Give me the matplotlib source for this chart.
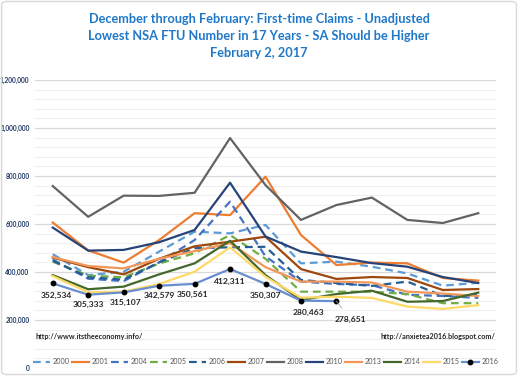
import matplotlib
matplotlib.use("Agg")
import matplotlib.pyplot as plt
from matplotlib.ticker import FuncFormatter, MultipleLocator
from matplotlib.patches import FancyBboxPatch

plt.rcParams["font.family"] = ["Lato", "DejaVu Sans"]

weeks = list(range(1, 14))

y2000 = [474000, 387000, 401000, 485000, 568000, 561000, 596000, 436000, 443000, 422000, 394000, 343000, 355000]
y2001 = [606000, 490000, 439000, 533000, 645000, 637000, 797000, 554000, 429000, 439000, 436000, 375000, 364000]
y2004 = [452000, 372000, 362000, 440000, 533000, 693000, 465000, 360000, 350000, 345000, 305000, 300000, 292000]
y2005 = [443000, 385000, 378000, 435000, 478000, 554000, 455000, 318000, 318000, 318000, 308000, 270000, 270000]
y2006 = [447000, 378000, 368000, 440000, 499000, 503000, 505000, 367000, 354000, 342000, 360000, 300000, 305000]
y2007 = [460000, 420000, 390000, 455000, 507000, 526000, 547000, 412000, 371000, 379000, 375000, 325000, 329000]
y2008 = [758000, 630000, 718000, 717000, 730000, 958000, 762000, 617000, 679000, 710000, 617000, 604000, 645000]
y2010 = [585000, 489000, 492000, 524000, 575000, 772000, 548000, 485000, 462000, 437000, 422000, 379000, 354000]
y2013 = [462000, 425000, 415000, 455000, 487000, 520000, 420000, 360000, 360000, 356000, 318000, 310000, 300000]
y2014 = [387000, 328000, 339000, 390000, 436000, 530000, 387000, 283000, 308000, 322000, 276000, 279000, 314000]
y2015 = [383000, 315000, 318000, 350000, 401000, 503000, 380000, 293000, 297000, 292000, 256000, 246000, 262000]
y2016 = [352534, 305333, 315107, 342579, 350561, 412311, 350307, 280463, 278651]

series_names = ["2000", "2001", "2004", "2005", "2006", "2007", "2008", "2010", "2013", "2014", "2015", "2016"]
series_vals = [y2000, y2001, y2004, y2005, y2006, y2007, y2008, y2010, y2013, y2014, y2015, y2016]
colors = ["#5B9BD5", "#ED7D31", "#4472C4", "#70AD47", "#255E91", "#9E480E",
          "#636363", "#264478", "#F1975A", "#43682B", "#FFD966", "#698ED0"]
dashed = [True, False, True, True, True, False, False, False, False, False, False, False]

label_offsets = [(4, -12), (0, -10), (2, -10), (0, -10), (-2, -11), (0, -12), (0, -12), (7, -12), (14, -18)]

fig = plt.figure(figsize=(5.18, 3.76), dpi=100)
fig.patch.set_facecolor("white")
fig.patches.append(FancyBboxPatch((0.003, 0.004), 0.994, 0.992, boxstyle="round,pad=0,rounding_size=0.01",
                                  transform=fig.transFigure, facecolor="none", edgecolor="#D9D9D9", linewidth=1.0))

ax = fig.add_axes([0.0676, 0.0213, 0.8899, 0.7660])
ax.set_facecolor("white")

handles = []
for name, vals, c, d in zip(series_names, series_vals, colors, dashed):
    x = weeks[:len(vals)]
    if name == "2016":
        h, = ax.plot(x, vals, color=c, lw=1.6, marker="o", markersize=3.2,
                     markerfacecolor="black", markeredgecolor="black", label=name, zorder=5)
    elif d:
        h, = ax.plot(x, vals, color=c, lw=1.6, linestyle=(0, (3.5, 2.2)), label=name, zorder=3)
    else:
        h, = ax.plot(x, vals, color=c, lw=1.6, label=name, zorder=3)
    handles.append(h)

for i, v in enumerate(y2016):
    dx, dy = label_offsets[i]
    ax.annotate(f"{v:,}", (weeks[i], v), xytext=(dx, dy), textcoords="offset pixels",
                ha="center", va="center", fontsize=6.1, fontweight="bold", color="#262626",
                arrowprops=(dict(arrowstyle="-", color="#A6A6A6", lw=0.6, shrinkA=4, shrinkB=0)
                            if i == len(y2016) - 1 else None), zorder=6)

ax.set_xlim(0.5, 13.5)
ax.set_ylim(0, 1200000)
ax.yaxis.set_major_locator(MultipleLocator(200000))
ax.yaxis.set_minor_locator(MultipleLocator(40000))
ax.yaxis.set_major_formatter(FuncFormatter(lambda v, p: f"{int(v):,}"))
ax.grid(axis="y", which="major", color="#D9D9D9", lw=0.9, zorder=0)
ax.grid(axis="y", which="minor", color="#EFEFEF", lw=0.8, zorder=0)
ax.set_axisbelow(True)
for s in ax.spines.values():
    s.set_visible(False)
ax.set_xticks([])
ax.tick_params(axis="y", which="both", length=0, pad=4, labelsize=4.8, labelcolor="#1F3864")
for t in ax.get_yticklabels():
    t.set_fontweight("bold")

ax.text(0.002, 0.108, "http://www.itstheeconomy.info/", transform=ax.transAxes, fontsize=5.2,
        fontweight="bold", color="#262626", va="center", ha="left")
ax.text(0.998, 0.108, "http://anxietea2016.blogspot.com/", transform=ax.transAxes, fontsize=5.2,
        fontweight="bold", color="#262626", va="center", ha="right")

leg = ax.legend(handles=handles, loc="center", bbox_to_anchor=(0.5, 0.022), ncol=12, frameon=False,
                fontsize=5.2, handlelength=2.4, handletextpad=0.3, columnspacing=0.35)
for t in leg.get_texts():
    t.set_color("#595959")

title_lines = ["December through February: First-time Claims - Unadjusted",
               "Lowest NSA FTU Number in 17 Years - SA Should be Higher",
               "February 2, 2017"]
for yy, line in zip([0.949, 0.904, 0.859], title_lines):
    fig.text(0.5, yy, line, ha="center", va="center", fontsize=9.2, fontweight="bold", color="#1F78C8")

fig.savefig("out.png", dpi=100)
